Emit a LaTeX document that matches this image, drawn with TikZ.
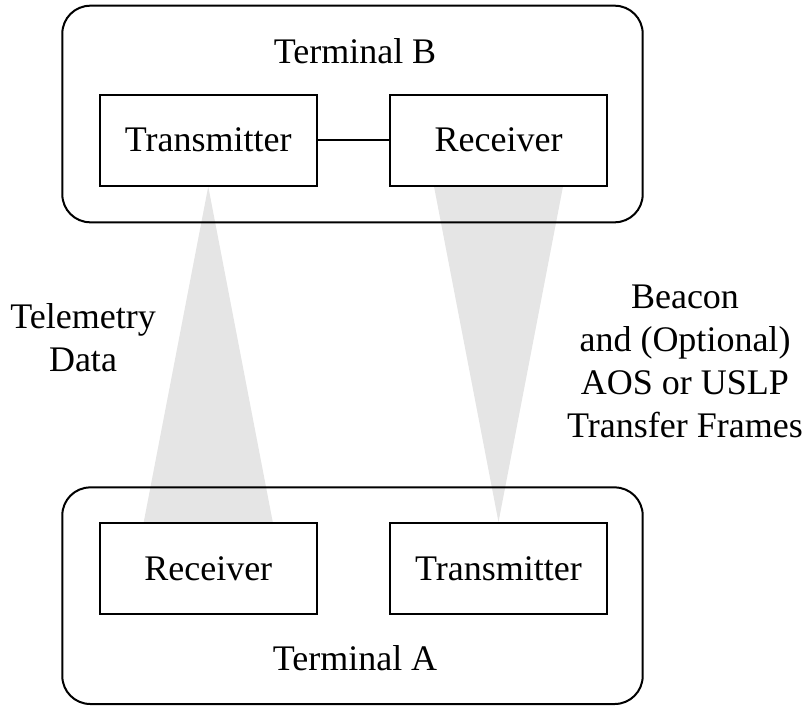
\documentclass[tikz,border=0pt]{standalone}
\usepackage{fontspec}
\setmainfont{Liberation Serif}
\usetikzlibrary{backgrounds}
\definecolor{beamgray}{RGB}{229,229,229}
\tikzset{
  terminal/.style={draw, line width=2pt, rounded corners=28pt, minimum width=580.4pt, minimum height=216.6pt, inner sep=0pt},
  unit/.style={draw, line width=2pt, fill=white, minimum width=216.5pt, minimum height=90.5pt, inner sep=0pt, font=\fontsize{36}{43}\selectfont},
  lbl/.style={inner sep=0pt, align=center, font=\fontsize{36}{43}\selectfont},
  beam/.style={fill=beamgray, draw=none},
  link/.style={line width=2pt}
}
\begin{document}
\begin{tikzpicture}[x=1pt, y=-1pt]
\useasboundingbox (0,0) rectangle (804,707);
% terminals
\node[terminal] (termB) at (352.5,114) {};
\node[terminal] (termA) at (352.5,595.7) {};
% units
\node[unit] (txB) at (208.25,140.25) {Transmitter};
\node[unit] (rxB) at (498.5,140.25) {Receiver};
\node[unit, minimum height=91pt] (rxA) at (208.25,568.5) {Receiver};
\node[unit, minimum height=91pt] (txA) at (498.5,568.5) {Transmitter};
% terminal labels
\node[lbl, anchor=base] (labB) at (355,63) {Terminal B};
\node[lbl, anchor=base] (labA) at (355,670) {Terminal A};
% link between B units
\draw[link] (txB.east) -- (rxB.west);
% beams
\begin{scope}[on background layer]
\fill[beam] (txB.south) -- ([xshift=-64.5pt]rxA.north) -- ([xshift=64.5pt]rxA.north) -- cycle;
\fill[beam] ([xshift=-64.5pt]rxB.south) -- ([xshift=64.5pt]rxB.south) -- (txA.north) -- cycle;
\end{scope}
% beam labels
\node[lbl] (tele) at (83,338) {Telemetry\\Data};
\node[lbl] (beacon) at (685,361) {Beacon\\and (Optional)\\AOS or USLP\\Transfer Frames};
\end{tikzpicture}
\end{document}
